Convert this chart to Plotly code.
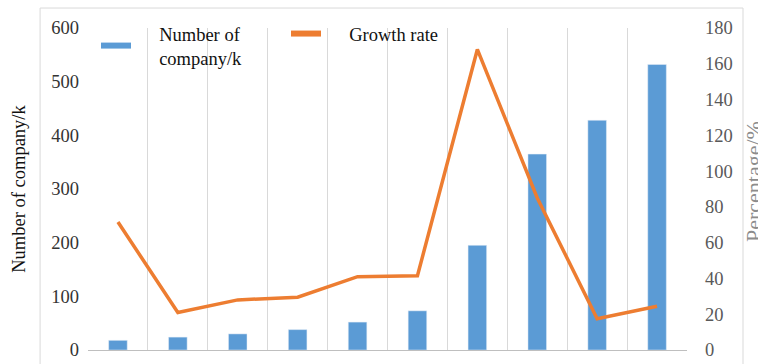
import plotly.graph_objects as go

categories = [1, 2, 3, 4, 5, 6, 7, 8, 9, 10]
companies = [18, 24, 30, 38, 52, 73, 195, 365, 428, 532]
growth_rate = [71.5, 21, 28, 29.5, 41, 41.5, 168, 85, 17.5, 24.5]
left_ticks = [0, 100, 200, 300, 400, 500, 600]
right_ticks = [0, 20, 40, 60, 80, 100, 120, 140, 160, 180]
grid_bounds = [0.5, 1.5, 2.5, 3.5, 4.5, 5.5, 6.5, 7.5, 8.5, 9.5, 10.5]

BLUE = "#5b9bd5"
ORANGE = "#ed7d31"
FONT = "Liberation Serif"
FS = 18.5

fig = go.Figure()
fig.add_trace(go.Bar(x=categories, y=companies, marker_color=BLUE, width=0.31,
                     showlegend=False, yaxis="y"))
fig.add_trace(go.Scatter(x=categories, y=growth_rate, mode="lines",
                         line=dict(color=ORANGE, width=3.5), showlegend=False, yaxis="y2"))
# legend entries
pad = "\u00a0\u00a0\u00a0\u00a0\u00a0"
fig.add_trace(go.Scatter(x=[None], y=[None], mode="lines", line=dict(color=BLUE, width=6),
                         name=pad + "Number of<br>" + pad + "company/k"))
fig.add_trace(go.Scatter(x=[None], y=[None], mode="lines", line=dict(color=ORANGE, width=6),
                         name=pad + "Growth rate", yaxis="y2"))

fig.update_layout(
    width=758, height=364,
    margin=dict(l=88, r=71, t=28, b=14),
    plot_bgcolor="white", paper_bgcolor="white",
    font=dict(family=FONT, size=FS, color="#333333"),
    xaxis=dict(range=[0.5, 10.5], tickvals=grid_bounds, showticklabels=False,
               showgrid=True, gridcolor="#d9d9d9", gridwidth=1, ticks="", automargin=False,
               showline=True, linecolor="#bfbfbf", linewidth=1, zeroline=False),
    yaxis=dict(range=[0, 600], tickvals=left_ticks, showgrid=False, zeroline=False, automargin=False,
               ticklabelstandoff=8,
               tickfont=dict(family=FONT, size=FS, color="#333333"),
               title=dict(text="Number of company/k", font=dict(family=FONT, size=FS, color="#111111"),
                          standoff=20)),
    yaxis2=dict(range=[0, 180], tickvals=right_ticks, overlaying="y", side="right", automargin=False,
                showgrid=False, zeroline=False, ticklabelstandoff=17,
                tickfont=dict(family=FONT, size=FS, color="#595959")),
    legend=dict(orientation="h", x=0.0134, y=0.944, xanchor="left", yanchor="middle",
                bgcolor="rgba(0,0,0,0)", font=dict(family=FONT, size=FS, color="#111111"),
                itemwidth=30, entrywidth=145, tracegroupgap=0),
    shapes=[dict(type="rect", xref="paper", yref="paper", x0=-0.080, x1=1.0935,
                 y0=-0.08, y1=1.062, line=dict(color="#d9d9d9", width=1), layer="below")],
    annotations=[dict(text="Percentage/%", xref="paper", yref="paper", x=1.0868, y=0.523,
                      xanchor="left", yanchor="middle", textangle=-90, showarrow=False,
                      font=dict(family=FONT, size=22, color="#8c8c8c"))],
)

fig.write_html("out.html")
